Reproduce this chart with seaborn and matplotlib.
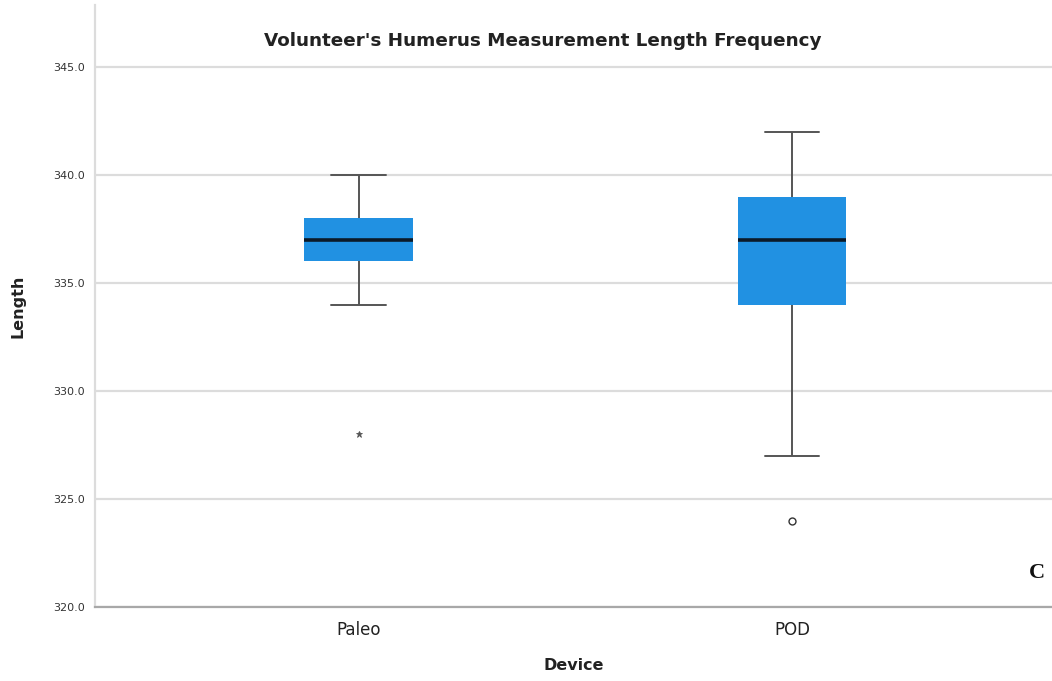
import matplotlib
matplotlib.use("Agg")
import matplotlib.pyplot as plt
import seaborn as sns
import pandas as pd

# Data
devices = ["Paleo", "POD"]
paleo_lengths = [328, 334, 336, 336, 337, 337, 338, 338, 340]
pod_lengths = [324, 327, 334, 334, 337, 338, 339, 340, 342]
outlier_markers = ["*", "o"]   # SPSS: extreme (*) vs outlier (o)
y_ticks = [320.0, 325.0, 330.0, 335.0, 340.0, 345.0]

df = pd.DataFrame({
    "Device": [devices[0]] * len(paleo_lengths) + [devices[1]] * len(pod_lengths),
    "Length": paleo_lengths + pod_lengths,
})

sns.set_theme(style="white")
fig = plt.figure(figsize=(10.52, 6.81), dpi=100)
ax = fig.add_axes([95 / 1052, 1 - 607 / 681, 1 - 95 / 1052, 602 / 681])

sns.boxplot(
    data=df, x="Device", y="Length", order=devices, ax=ax,
    width=0.25, color="#2191e2", saturation=1, whis=1.5,
    linewidth=1.4,
    boxprops=dict(edgecolor="#2191e2", linewidth=0),
    medianprops=dict(color="#0b1a2a", linewidth=2.6),
    whiskerprops=dict(color="#555555", linewidth=1.4),
    capprops=dict(color="#555555", linewidth=1.4),
    flierprops=dict(marker="o", markersize=5, markerfacecolor="white",
                    markeredgecolor="#333333", markeredgewidth=1.0),
    zorder=3,
)

# set per-box outlier markers
fliers = [l for l in ax.lines if l.get_linestyle() in ("None", "none", "") and len(l.get_xdata()) > 0]
for line, m in zip(fliers, outlier_markers):
    line.set_marker(m)
    if m == "*":
        line.set_markersize(4.5)
        line.set_markerfacecolor("#555555")
        line.set_markeredgecolor("#555555")
        line.set_markeredgewidth(0.6)

ax.set_xlim(-0.608, 1.6)
ax.set_ylim(320, 347.87)
ax.set_yticks(y_ticks)
ax.set_yticklabels([f"{v:.1f}" for v in y_ticks], fontsize=8, color="#333333")
ax.tick_params(axis="x", labelsize=12, colors="#222222", length=0, pad=10)
ax.tick_params(axis="y", length=0, pad=7)
ax.yaxis.grid(True, color="#dcdcdc", linewidth=1.6, zorder=0)
ax.set_axisbelow(True)

for s in ["top", "right"]:
    ax.spines[s].set_visible(False)
ax.spines["left"].set_color("#dcdcdc")
ax.spines["left"].set_linewidth(1.6)
ax.spines["bottom"].set_color("#a8a8a8")
ax.spines["bottom"].set_linewidth(1.6)

ax.set_xlabel("Device", fontsize=11.5, fontweight="bold", color="#222222", labelpad=14)
ax.set_ylabel("Length", fontsize=11.5, fontweight="bold", color="#222222", labelpad=20)

fig.text(543 / 1052, 1 - 41 / 681, "Volunteer's Humerus Measurement Length Frequency",
         ha="center", va="center", fontsize=13.2, fontweight="bold", color="#222222")
fig.text(1037 / 1052, 1 - 573 / 681, "C", ha="center", va="center",
         fontsize=16, fontweight="bold", family="Liberation Serif", color="#111111")

fig.savefig("out.png", dpi=100)
